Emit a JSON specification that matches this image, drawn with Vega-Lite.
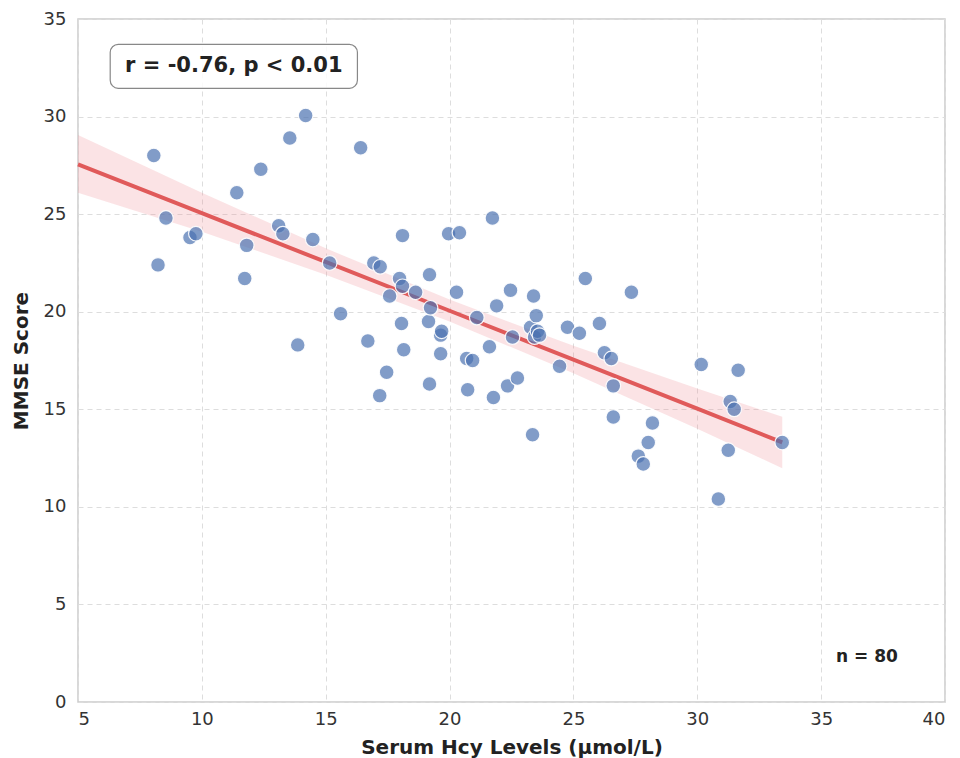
{
  "$schema": "https://vega.github.io/schema/vega-lite/v6.json",
  "autosize": "none",
  "width": 867,
  "height": 683,
  "padding": {"left": 78, "top": 19, "right": 15, "bottom": 56},
  "background": "white",
  "config": {
    "font": "DejaVu Sans",
    "view": {"stroke": "#cccccc", "strokeWidth": 1.5},
    "axis": {
      "grid": true,
      "gridColor": "#dddddd",
      "gridDash": [5, 4],
      "gridWidth": 1,
      "domain": false,
      "ticks": false,
      "labelFontSize": 18,
      "labelColor": "#333333",
      "labelFont": "DejaVu Sans",
      "titleFont": "DejaVu Sans",
      "titleFontSize": 20,
      "titleFontWeight": "bold",
      "titleColor": "#222222"
    }
  },
  "datasets": {
    "points": [
      {"hcy": 8.06, "mmse": 28.0}, {"hcy": 8.55, "mmse": 24.8}, {"hcy": 8.23, "mmse": 22.4},
      {"hcy": 9.52, "mmse": 23.8}, {"hcy": 9.76, "mmse": 24.0}, {"hcy": 11.41, "mmse": 26.1},
      {"hcy": 12.38, "mmse": 27.3}, {"hcy": 11.81, "mmse": 23.4}, {"hcy": 11.73, "mmse": 21.7},
      {"hcy": 13.1, "mmse": 24.4}, {"hcy": 13.27, "mmse": 24.0}, {"hcy": 13.55, "mmse": 28.9},
      {"hcy": 14.19, "mmse": 30.05}, {"hcy": 14.48, "mmse": 23.7}, {"hcy": 13.87, "mmse": 18.3},
      {"hcy": 15.16, "mmse": 22.5}, {"hcy": 15.6, "mmse": 19.9}, {"hcy": 16.41, "mmse": 28.4},
      {"hcy": 16.7, "mmse": 18.5}, {"hcy": 16.94, "mmse": 22.5}, {"hcy": 17.2, "mmse": 22.3},
      {"hcy": 17.58, "mmse": 20.8}, {"hcy": 17.46, "mmse": 16.9}, {"hcy": 17.18, "mmse": 15.7},
      {"hcy": 17.98, "mmse": 21.7}, {"hcy": 18.1, "mmse": 21.3}, {"hcy": 18.1, "mmse": 23.9},
      {"hcy": 18.06, "mmse": 19.4}, {"hcy": 18.15, "mmse": 18.05}, {"hcy": 18.63, "mmse": 21.0},
      {"hcy": 19.19, "mmse": 21.9}, {"hcy": 19.15, "mmse": 19.5}, {"hcy": 19.23, "mmse": 20.2},
      {"hcy": 19.19, "mmse": 16.3}, {"hcy": 19.64, "mmse": 18.8}, {"hcy": 19.68, "mmse": 19.0},
      {"hcy": 19.64, "mmse": 17.85}, {"hcy": 19.96, "mmse": 24.0}, {"hcy": 20.4, "mmse": 24.05},
      {"hcy": 20.28, "mmse": 21.0}, {"hcy": 20.69, "mmse": 17.6}, {"hcy": 20.73, "mmse": 16.0},
      {"hcy": 21.1, "mmse": 19.7}, {"hcy": 20.93, "mmse": 17.5}, {"hcy": 21.73, "mmse": 24.8},
      {"hcy": 21.61, "mmse": 18.2}, {"hcy": 21.77, "mmse": 15.6}, {"hcy": 21.9, "mmse": 20.3},
      {"hcy": 22.34, "mmse": 16.2}, {"hcy": 22.46, "mmse": 21.1}, {"hcy": 22.54, "mmse": 18.7},
      {"hcy": 22.74, "mmse": 16.6}, {"hcy": 23.27, "mmse": 19.2}, {"hcy": 23.39, "mmse": 20.8},
      {"hcy": 23.35, "mmse": 13.7}, {"hcy": 23.5, "mmse": 19.8}, {"hcy": 23.43, "mmse": 18.7},
      {"hcy": 23.55, "mmse": 19.0}, {"hcy": 23.63, "mmse": 18.8}, {"hcy": 24.44, "mmse": 17.2},
      {"hcy": 24.76, "mmse": 19.2}, {"hcy": 25.24, "mmse": 18.9}, {"hcy": 25.48, "mmse": 21.7},
      {"hcy": 26.05, "mmse": 19.4}, {"hcy": 26.25, "mmse": 17.9}, {"hcy": 26.53, "mmse": 17.6},
      {"hcy": 26.61, "mmse": 16.2}, {"hcy": 26.61, "mmse": 14.6}, {"hcy": 27.34, "mmse": 21.0},
      {"hcy": 27.62, "mmse": 12.6}, {"hcy": 27.82, "mmse": 12.2}, {"hcy": 28.02, "mmse": 13.3},
      {"hcy": 28.19, "mmse": 14.3}, {"hcy": 30.16, "mmse": 17.3}, {"hcy": 30.85, "mmse": 10.4},
      {"hcy": 31.25, "mmse": 12.9}, {"hcy": 31.33, "mmse": 15.4}, {"hcy": 31.49, "mmse": 15.0},
      {"hcy": 31.65, "mmse": 17.0}, {"hcy": 33.43, "mmse": 13.3}
    ],
    "fit": [
      {"hcy": 5, "fit": 27.55, "lo": 26.1, "hi": 29.05},
      {"hcy": 10, "fit": 25.05, "lo": 24.1, "hi": 26.1},
      {"hcy": 15, "fit": 22.55, "lo": 21.9, "hi": 23.25},
      {"hcy": 20, "fit": 20.05, "lo": 19.5, "hi": 20.62},
      {"hcy": 25, "fit": 17.54, "lo": 16.85, "hi": 18.25},
      {"hcy": 30, "fit": 15.03, "lo": 14.0, "hi": 16.06},
      {"hcy": 33.43, "fit": 13.3, "lo": 11.98, "hi": 14.62}
    ],
    "box": [
      {"x1": 6.3, "x2": 16.28, "y1": 31.45, "y2": 33.7}
    ],
    "labels": [
      {"x": 11.29, "y": 32.58, "label": "r = -0.76, p < 0.01", "kind": "stat"},
      {"x": 36.85, "y": 2.3, "label": "n = 80", "kind": "n"}
    ]
  },
  "layer": [
    {
      "data": {"name": "fit"},
      "mark": {"type": "area", "color": "#f08a94", "opacity": 0.24},
      "encoding": {
        "x": {"field": "hcy", "type": "quantitative", "scale": {"domain": [5, 40], "nice": false},
              "axis": {"values": [5, 10, 15, 20, 25, 30, 35, 40], "labelPadding": 8, "title": "Serum Hcy Levels (μmol/L)", "titlePadding": 9}},
        "y": {"field": "lo", "type": "quantitative", "scale": {"domain": [0, 35], "nice": false},
              "axis": {"values": [0, 5, 10, 15, 20, 25, 30, 35], "labelPadding": 12, "title": "MMSE Score", "titlePadding": 12}},
        "y2": {"field": "hi"}
      }
    },
    {
      "data": {"name": "fit"},
      "mark": {"type": "line", "color": "#e05a5a", "strokeWidth": 4},
      "encoding": {
        "x": {"field": "hcy", "type": "quantitative"},
        "y": {"field": "fit", "type": "quantitative"}
      }
    },
    {
      "data": {"name": "points"},
      "mark": {"type": "circle", "size": 215, "fill": "#4c72b0", "fillOpacity": 0.7, "stroke": "white", "strokeWidth": 1.2, "strokeOpacity": 0.9},
      "encoding": {
        "x": {"field": "hcy", "type": "quantitative"},
        "y": {"field": "mmse", "type": "quantitative"}
      }
    },
    {
      "data": {"name": "box"},
      "mark": {"type": "rect", "fill": "white", "fillOpacity": 0.85, "stroke": "#888888", "strokeWidth": 1.2, "cornerRadius": 8},
      "encoding": {
        "x": {"field": "x1", "type": "quantitative"},
        "x2": {"field": "x2"},
        "y": {"field": "y1", "type": "quantitative"},
        "y2": {"field": "y2"}
      }
    },
    {
      "data": {"name": "labels"},
      "transform": [{"filter": "datum.kind == 'stat'"}],
      "mark": {"type": "text", "fontSize": 21, "fontWeight": "bold", "color": "#222222", "align": "center", "baseline": "middle"},
      "encoding": {
        "x": {"field": "x", "type": "quantitative"},
        "y": {"field": "y", "type": "quantitative"},
        "text": {"field": "label"}
      }
    },
    {
      "data": {"name": "labels"},
      "transform": [{"filter": "datum.kind == 'n'"}],
      "mark": {"type": "text", "fontSize": 17, "fontWeight": "bold", "color": "#222222", "align": "center", "baseline": "middle"},
      "encoding": {
        "x": {"field": "x", "type": "quantitative"},
        "y": {"field": "y", "type": "quantitative"},
        "text": {"field": "label"}
      }
    }
  ]
}
